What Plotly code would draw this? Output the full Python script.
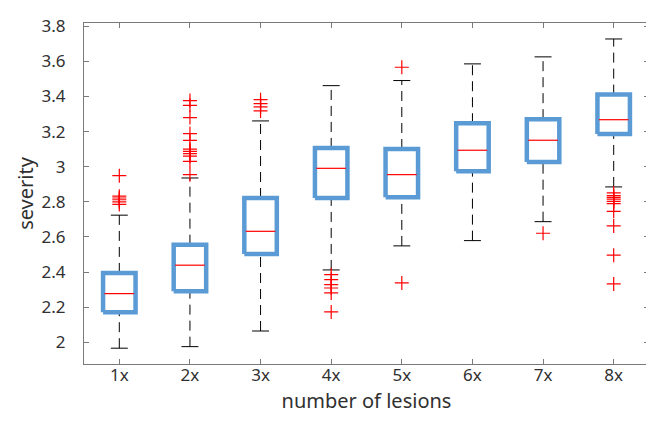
import plotly.graph_objects as go

categories = ["1x", "2x", "3x", "4x", "5x", "6x", "7x", "8x"]
q1 = [2.171, 2.290, 2.503, 2.822, 2.826, 2.974, 3.027, 3.187]
median = [2.277, 2.439, 2.632, 2.991, 2.955, 3.094, 3.151, 3.268]
q3 = [2.395, 2.556, 2.822, 3.107, 3.101, 3.248, 3.271, 3.411]
lower_whisker = [1.966, 1.975, 2.064, 2.412, 2.549, 2.579, 2.687, 2.885]
upper_whisker = [2.724, 2.936, 3.261, 3.462, 3.491, 3.586, 3.626, 3.728]
outliers = [
    [2.949, 2.832, 2.822, 2.812, 2.800, 2.785],
    [3.377, 3.350, 3.280, 3.189, 3.150, 3.100, 3.088, 3.075, 3.060, 3.031, 2.955],
    [3.382, 3.360, 3.341, 3.318],
    [2.385, 2.357, 2.328, 2.309, 2.281, 2.173],
    [3.567, 2.338],
    [],
    [2.621],
    [2.851, 2.835, 2.825, 2.815, 2.803, 2.790, 2.746, 2.663, 2.496, 2.332],
]
y_ticks = [2.0, 2.2, 2.4, 2.6, 2.8, 3.0, 3.2, 3.4, 3.6, 3.8]
y_tick_labels = ["2", "2.2", "2.4", "2.6", "2.8", "3", "3.2", "3.4", "3.6", "3.8"]

HW = 0.23   # box half width
CW = 0.12   # cap half width
pos = list(range(1, len(categories) + 1))

fig = go.Figure()

# whiskers (dashed)
wx, wy = [], []
for p, a, b, c, d in zip(pos, lower_whisker, q1, q3, upper_whisker):
    wx += [p, p, None, p, p, None]
    wy += [a, b, None, c, d, None]
fig.add_trace(go.Scatter(x=wx, y=wy, mode="lines",
                         line=dict(color="black", width=1, dash="10px,6px"),
                         hoverinfo="skip", showlegend=False))
# caps
cx, cy = [], []
for p, a, d in zip(pos, lower_whisker, upper_whisker):
    cx += [p - CW, p + CW, None, p - CW, p + CW, None]
    cy += [a, a, None, d, d, None]
fig.add_trace(go.Scatter(x=cx, y=cy, mode="lines",
                         line=dict(color="black", width=1),
                         hoverinfo="skip", showlegend=False))
# boxes
bx, by = [], []
for p, b, c in zip(pos, q1, q3):
    bx += [p - HW, p + HW, p + HW, p - HW, p - HW, None]
    by += [b, b, c, c, b, None]
fig.add_trace(go.Scatter(x=bx, y=by, mode="lines",
                         line=dict(color="#5B9BD5", width=4.5),
                         hoverinfo="skip", showlegend=False))
# medians
mx, my = [], []
for p, m in zip(pos, median):
    mx += [p - HW + 0.02, p + HW - 0.02, None]
    my += [m, m, None]
fig.add_trace(go.Scatter(x=mx, y=my, mode="lines",
                         line=dict(color="#FF0000", width=1.2),
                         hoverinfo="skip", showlegend=False))
# outliers
ox, oy = [], []
for p, outs in zip(pos, outliers):
    for v in outs:
        ox.append(p)
        oy.append(v)
fig.add_trace(go.Scatter(x=ox, y=oy, mode="markers",
                         marker=dict(symbol="cross-thin", size=10,
                                     line=dict(color="#FF0000", width=1.2)),
                         hoverinfo="skip", showlegend=False))

axis_color = "#7a7a7a"
fig.update_layout(
    width=654, height=421,
    margin=dict(l=76, r=13, t=15, b=65),
    paper_bgcolor="white", plot_bgcolor="white",
    font=dict(family="Noto Sans, Open Sans, sans-serif", size=17, color="#303030"),
    xaxis=dict(range=[0.5, 8.5], tickvals=pos, ticktext=categories,
               ticks="inside", ticklen=5, tickcolor=axis_color, automargin=False,
               showline=True, linecolor=axis_color, linewidth=1, mirror="ticks",
               showgrid=False, zeroline=False, tickfont=dict(size=17),
               ticklabelstandoff=-4,
               title=dict(text="number of lesions", font=dict(size=20), standoff=8)),
    yaxis=dict(range=[1.876, 3.819], tickvals=y_ticks, ticktext=y_tick_labels,
               ticks="inside", ticklen=5, tickcolor=axis_color, automargin=False,
               showline=True, linecolor=axis_color, linewidth=1, mirror="ticks",
               showgrid=False, zeroline=False, tickfont=dict(size=17),
               ticklabelstandoff=14,
               title=dict(text="severity", font=dict(size=20), standoff=2)),
)

fig.write_html("out.html")
